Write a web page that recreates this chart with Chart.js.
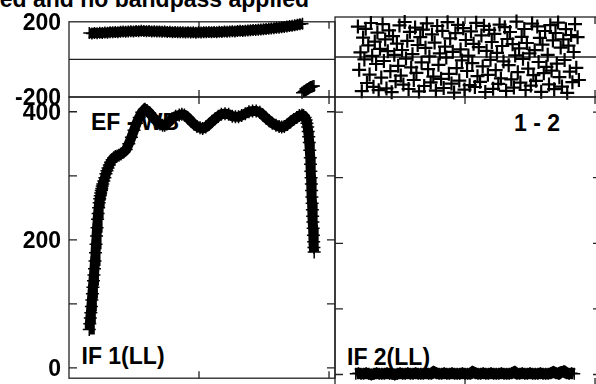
<!DOCTYPE html>
<html>
<head>
<meta charset="utf-8">
<script src="https://cdn.jsdelivr.net/npm/chart.js@4.4.1/dist/chart.umd.min.js"></script>
<style>
    body { margin: 0; width: 596px; height: 384px; overflow: hidden; background: #fff; position: relative; font-family: 'Liberation Sans', Arial, sans-serif; }
    canvas { position: absolute; left: 0; top: 0; }
    .lbl { position: absolute; font-weight: bold; font-size: 23px; line-height: 23px; white-space: nowrap; color: #000; }
</style>
</head>
<body>
<div class="lbl" style="left:-200px;width:509px;text-align:right;top:-12.5px">ed and no bandpass applied</div>
<div class="lbl" style="left:91px;top:111px">EF - WB</div>
<div class="lbl" style="left:514px;top:111.5px">1 - 2</div>
<div class="lbl" style="left:81.5px;top:344.5px">IF 1(LL)</div>
<div class="lbl" style="left:347px;top:345.5px">IF 2(LL)</div>
<canvas id="lp" width="620" height="400"></canvas>
<canvas id="la" width="620" height="400"></canvas>
<canvas id="rp" width="620" height="400"></canvas>
<canvas id="ra" width="620" height="400"></canvas>
<script>
// axis ticks
const xTicks = [500, 1000];
const phaseTicks = [-200, 0, 200];
const phaseLabels = ['-200', '', '200'];
const ampTicks = [0, 100, 200, 300, 400];
const ampLabels = ['0', '', '200', '', '400'];

// IF 1 (LL), baseline EF - WB
const phaseChan1 = [78, 88, 98, 108, 118, 128, 138, 148, 158, 168, 178, 188, 198, 208, 218, 228, 238, 248, 258, 268,
    278, 288, 298, 308, 318, 328, 338, 348, 358, 368, 378, 388, 398, 408, 418, 428, 438, 448, 458, 468,
    478, 488, 498, 508, 518, 528, 538, 548, 558, 568, 578, 588, 598, 608, 618, 628, 638, 648, 658, 668,
    678, 688, 698, 708, 718, 728, 738, 748, 758, 768, 778, 788, 798, 808, 818, 828, 838, 848, 858, 868,
    878, 888, 898];
const phase1 = [140, 138, 141, 139, 142, 141, 143, 142, 145, 144, 146, 145, 147, 148, 147, 149, 150, 149, 151, 150,
    152, 151, 150, 151, 149, 150, 148, 149, 147, 148, 146, 147, 145, 146, 144, 145, 144, 143, 145, 143,
    144, 142, 144, 143, 145, 144, 146, 145, 146, 145, 147, 146, 148, 147, 149, 150, 149, 151, 152, 151,
    153, 154, 155, 156, 157, 158, 159, 160, 162, 163, 165, 166, 168, 169, 171, 173, 175, 177, 179, 181,
    184, 187, 190];
const wrapChan1 = [896, 902, 906, 910, 914, 918, 922, 926, 930, 934, 938, 942];
const wrap1 = [-178, -172, -168, -165, -160, -157, -153, -150, -147, -146, -143, -141];

const ampChan1 = [78, 80, 82, 84, 86, 88, 90, 92, 94, 96, 98, 100, 102, 104, 106, 108, 110, 112, 114, 116,
    118, 120, 122, 124, 126, 128, 130, 134, 138, 142, 146, 150, 155, 160, 166, 172, 178, 185, 192, 200,
    210, 220, 230, 240, 250, 260, 270, 280, 292, 300, 310, 320, 330, 340, 350, 360, 368, 376, 386, 396,
    410, 424, 434, 444, 456, 468, 480, 492, 504, 514, 526, 538, 550, 562, 574, 586, 600, 614, 628, 640,
    652, 664, 678, 692, 706, 720, 734, 746, 758, 770, 782, 796, 808, 818, 828, 840, 852, 864, 876, 886,
    896, 902, 908, 912, 915, 918, 920, 922, 924, 926, 928, 929, 930, 931, 932, 933, 934, 935, 936, 937,
    938, 939, 940, 941, 942, 943];
const amp1 = [60, 69, 78, 86, 96, 106, 116, 126, 136, 145, 155, 167, 180, 193, 206, 219, 232, 241, 250, 258,
    264, 269, 273, 277, 280, 284, 287, 292, 297, 303, 308, 312, 317, 321, 325, 328, 330, 331, 332, 334,
    337, 341, 350, 360, 371, 382, 391, 399, 404, 402, 398, 393, 388, 384, 381, 379, 379, 381, 385, 389,
    393, 395, 396, 395, 391, 386, 381, 377, 375, 374, 376, 380, 385, 389, 393, 396, 397, 396, 393, 392,
    392, 394, 397, 400, 401, 401, 399, 395, 390, 386, 382, 379, 377, 376, 377, 380, 384, 388, 391, 394,
    395, 394, 391, 387, 382, 376, 369, 361, 352, 340, 328, 318, 307, 297, 287, 277, 267, 257, 247, 237,
    228, 218, 207, 197, 188, 181];

// IF 2 (LL), baseline 1 - 2
const phaseChan2 = Array.from({ length: 171 }, (_, i) => 88 + i * 5);
const phase2 = [152, -64, 23, -171, 97, -12, 141, -130, 58, -88, 170, 6, -149, 77, -35, 122, -166, 41, -103,
    164, -20, 88, -157, 29, 133, -71, -176, 104, 11, -121, 67, -44, 158, -93, 35, -138, 175, -8,
    81, -160, 126, -52, 14, -115, 147, -79, 60, -172, 99, -27, 137, -145, 46, 168, -61, 3, -127,
    113, -98, 72, -168, 155, -39, 18, -109, 131, -155, 52, -3, 174, -84, 93, -133, 26, -178, 119,
    -56, 161, -118, 38, -17, 144, -163, 85, -70, 7, -141, 128, -31, 66, -150, 171, -96, 49, -124,
    108, -47, 156, -175, 31, -89, 136, -14, 75, -159, 116, -66, 21, -134, 162, -107, 55, -22, 149,
    -169, 90, -41, 125, -112, 64, -153, 8, 177, -76, 43, -128, 101, -9, 140, -165, 70, -58, 18,
    -143, 167, -91, 34, -119, 153, -25, 96, -174, 62, -81, 130, -49, 11, -137, 159, -68, 83, -161,
    120, -33, 172, -101, 47, -148, 88, -15, 139, -179, 57, -73, 110, -126, 25, 164, -54, 99, -115];
const ampChan2 = Array.from({ length: 85 }, (_, i) => 80 + i * 10);
const amp2 = [1, 2, 1, 1, 2, 1, 0, 1, 2, 1,
    1, 1, 2, 1, 1, 0, 1, 2, 1, 1,
    2, 1, 1, 2, 1, 1, 1, 2, 1, 1,
    4, 2, 1, 1, 2, 1, 1, 2, 1, 1,
    1, 2, 1, 1, 1, 4, 2, 1, 1, 2,
    1, 1, 2, 1, 1, 1, 2, 1, 1, 1,
    2, 4, 1, 1, 2, 1, 1, 2, 1, 1,
    1, 2, 1, 1, 1, 2, 4, 2, 1, 4,
    5, 2, 1, 2, 1];

const tickFont = { family: "'Liberation Sans', Arial, sans-serif", size: 23, weight: 'bold' };

// box, inward tick marks and zero line, placed through the chart scales
const framePlugin = {
    id: 'frame',
    beforeDatasetsDraw(chart, args, opts) {
        const { ctx, chartArea: a } = chart;
        const x = chart.scales.x;
        const y = chart.scales.y;
        ctx.save();
        ctx.strokeStyle = '#222';
        ctx.lineWidth = 1.3;
        ctx.strokeRect(a.left, a.top, a.right - a.left, a.bottom - a.top);
        ctx.beginPath();
        opts.yTicks.forEach(v => {
            const py = y.getPixelForValue(v);
            if (py <= a.top + 1 || py >= a.bottom - 1) return;
            if (opts.zeroLine && v === 0) {
                ctx.moveTo(a.left, py);
                ctx.lineTo(a.right, py);
                return;
            }
            ctx.moveTo(a.left, py);
            ctx.lineTo(a.left + 8, py);
            ctx.moveTo(a.right, py);
            ctx.lineTo(a.right - 8, py);
        });
        xTicks.forEach(v => {
            const px = x.getPixelForValue(v);
            ctx.moveTo(px, a.top);
            ctx.lineTo(px, a.top + 7);
            ctx.moveTo(px, a.bottom);
            ctx.lineTo(px, a.bottom - 7);
        });
        ctx.stroke();
        ctx.restore();
    }
};

const charts = {};

function makeGraph({ id, padding, yMin, yMax, yTicks, yLabels, zeroLine, sets }) {
    const ctx = document.getElementById(id);
    if (charts[id]) {
        charts[id].destroy();
    }
    charts[id] = new Chart(ctx, {
        type: 'scatter',
        data: {
            datasets: sets.map(s => ({
                data: s.xs.map((x, i) => ({ x: x, y: s.ys[i] })),
                showLine: s.line > 0,
                borderWidth: s.line,
                borderColor: '#000',
                pointStyle: 'cross',
                pointRadius: s.r,
                pointBorderWidth: s.pw || 1.5,
                pointBorderColor: '#000',
                clip: false
            }))
        },
        options: {
            responsive: false,
            animation: false,
            events: [],
            layout: { padding: padding, autoPadding: false },
            plugins: {
                legend: { display: false },
                tooltip: { enabled: false },
                frame: { yTicks: yTicks, zeroLine: zeroLine }
            },
            scales: {
                x: {
                    type: 'linear',
                    display: false,
                    min: 0,
                    max: 1023
                },
                y: {
                    type: 'linear',
                    display: !!yLabels,
                    min: yMin,
                    max: yMax,
                    afterFit: s => { s.width = yLabels ? 69 : 0; },
                    afterBuildTicks: s => { s.ticks = yTicks.map(v => ({ value: v })); },
                    grid: { display: false, drawTicks: false },
                    border: { display: false },
                    ticks: {
                        autoSkip: false,
                        padding: 8,
                        labelOffset: 2,
                        color: '#000',
                        font: tickFont,
                        callback: (v, i) => yLabels ? yLabels[i] : ''
                    }
                }
            }
        },
        plugins: [framePlugin]
    });
}

makeGraph({
    id: 'lp',
    padding: { left: 0, right: 285, top: 17, bottom: 303 },
    yMin: -200, yMax: 200, yTicks: phaseTicks, yLabels: phaseLabels, zeroLine: true,
    sets: [
        { xs: phaseChan1, ys: phase1, line: 10, r: 6 },
        { xs: wrapChan1, ys: wrap1, line: 10, r: 6 }
    ]
});

makeGraph({
    id: 'la',
    padding: { left: 0, right: 285, top: 97, bottom: 15 },
    yMin: -16, yMax: 423, yTicks: ampTicks, yLabels: ampLabels, zeroLine: false,
    sets: [{ xs: ampChan1, ys: amp1, line: 10, r: 6.5 }]
});

makeGraph({
    id: 'rp',
    padding: { left: 335, right: 19, top: 17, bottom: 303 },
    yMin: -200, yMax: 200, yTicks: phaseTicks, yLabels: null, zeroLine: true,
    sets: [{ xs: phaseChan2, ys: phase2, line: 0, r: 7, pw: 2.2 }]
});

makeGraph({
    id: 'ra',
    padding: { left: 335, right: 19, top: 97, bottom: 15 },
    yMin: -16, yMax: 423, yTicks: ampTicks, yLabels: null, zeroLine: false,
    sets: [{ xs: ampChan2, ys: amp2, line: 11, r: 6 }]
});
</script>
</body>
</html>
